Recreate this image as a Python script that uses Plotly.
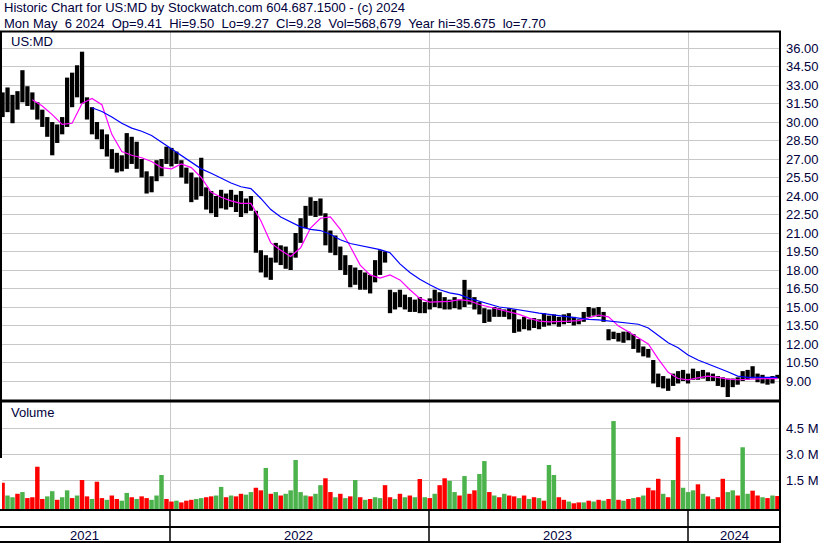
import plotly.graph_objects as go
import pandas as pd

# ---------------- data (weekly) ----------------
first_week = "2021-05-10"

price_hi = [
    32.4, 32.8, 32.2, 32.5, 34.2, 32.9, 32.4, 31.6, 31.0, 30.4,
    30.0, 29.8, 30.4, 33.6, 34.0, 34.6, 35.7, 32.0, 31.2, 30.0,
    29.4, 29.0, 27.8, 27.5, 27.3, 29.1, 28.8, 28.4, 27.0, 26.0,
    25.6, 26.9, 27.0, 28.0, 27.9, 27.6, 26.9, 26.3, 25.9, 25.5,
    27.1, 24.7, 24.4, 24.0, 24.5, 24.2, 24.5, 24.1, 24.4, 23.8,
    24.0, 22.8, 19.6, 19.2, 19.0, 20.2, 20.0, 19.9, 19.4, 21.0,
    22.2, 23.2, 23.9, 23.6, 23.8, 22.6, 21.2, 20.8, 19.9, 19.2,
    18.4, 18.2, 18.0, 17.8, 17.6, 18.8, 19.6, 19.5, 16.4, 16.2,
    16.4, 16.0, 15.8, 15.6, 15.8, 15.4, 15.7, 16.4, 16.2, 15.8,
    15.6, 15.8, 15.6, 17.2, 16.4, 15.8, 15.4, 14.9, 14.8, 15.0,
    14.9, 14.8, 14.9, 14.8, 14.0, 14.2, 14.0, 14.1, 14.0, 14.5,
    14.3, 14.4, 14.2, 14.4, 14.5, 14.2, 14.0, 14.6, 15.0, 14.9,
    15.0, 14.6, 13.2, 13.0, 12.9, 13.0, 13.0, 12.8, 12.4, 11.8,
    11.6, 10.7, 9.6, 9.4, 9.2, 9.6, 9.8, 9.9, 9.6, 10.0,
    9.8, 9.9, 9.7, 9.6, 9.4, 9.3, 9.2, 9.2, 9.3, 9.8,
    9.9, 10.2, 9.6, 9.5, 9.3, 9.4, 9.5,
]

price_lo = [
    30.4, 30.8, 29.9, 31.0, 31.6, 31.3, 31.0, 30.2, 29.6, 28.8,
    27.3, 28.3, 29.0, 29.6, 31.2, 32.0, 31.5, 30.2, 29.0, 28.6,
    27.8, 27.2, 26.2, 25.9, 26.0, 26.2, 26.6, 26.2, 25.5, 24.2,
    24.3, 25.2, 25.6, 26.6, 26.4, 26.6, 25.5, 25.0, 23.5, 23.7,
    24.0, 22.9, 22.6, 22.3, 23.0, 22.9, 23.1, 22.7, 22.3, 22.6,
    22.8, 19.4, 17.8, 17.4, 17.2, 18.6, 18.4, 18.1, 18.0, 19.0,
    20.2, 21.4, 22.4, 22.3, 22.4, 20.0, 19.4, 19.2, 18.0, 17.6,
    16.6, 16.8, 16.4, 16.4, 16.1, 17.0, 17.6, 18.6, 14.5, 14.8,
    15.0, 14.8, 14.6, 14.6, 14.5, 14.5, 14.8, 15.0, 14.9, 14.8,
    14.8, 14.9, 14.8, 15.0, 15.2, 14.8, 14.4, 13.7, 13.8, 14.2,
    14.2, 14.2, 14.0, 12.9, 13.0, 13.2, 13.1, 13.3, 13.2, 13.4,
    13.5, 13.6, 13.4, 13.6, 13.7, 13.5, 13.6, 13.8, 14.2, 14.3,
    14.2, 13.8, 12.3, 12.4, 12.2, 12.1, 12.3, 11.6, 11.3, 11.0,
    10.9, 8.8, 8.5, 8.4, 8.2, 8.6, 8.8, 9.0, 8.8, 9.1,
    9.1, 9.2, 9.0, 9.0, 8.6, 8.5, 7.7, 8.5, 8.7, 9.0,
    9.1, 9.2, 8.9, 8.8, 8.7, 8.8, 9.2,
]

# moving averages, read every second week
ma_fast_start = 6
ma_fast = [
    31.8, 31.3, 30.6, 29.8, 29.9, 31.5, 31.9, 31.4, 29.0, 27.6,
    27.3, 27.1, 26.8, 26.3, 26.2, 26.6, 26.3, 25.5, 24.3, 23.9,
    23.6, 23.4, 23.4, 22.0, 20.2, 19.6, 19.1, 19.8, 21.4, 22.2,
    22.3, 21.3, 19.9, 18.4, 17.6, 17.35, 17.6, 17.2, 16.4, 15.7,
    15.4, 15.4, 15.45, 15.6, 15.5, 15.2, 15.0, 14.8, 14.6, 14.4,
    14.1, 13.85, 13.8, 13.8, 13.85, 13.9, 14.15, 14.35, 14.2, 13.45,
    13.0, 12.5, 12.0, 10.8, 9.7, 9.2, 9.1, 9.25, 9.4, 9.3,
    9.15, 9.1, 9.15, 9.2, 9.2, 9.2,
]
ma_slow_start = 18
ma_slow = [
    31.15, 30.85, 30.4, 29.9, 29.5, 29.25, 28.9, 28.35, 27.85, 27.25,
    26.7, 26.2, 25.85, 25.45, 25.05, 24.75, 24.6, 23.8, 22.9, 22.3,
    21.9, 21.5, 21.3, 21.2, 20.9, 20.45, 20.15, 20.0, 19.85, 19.65,
    19.4, 18.5, 17.8, 17.25, 16.8, 16.4, 16.15, 16.0, 15.7, 15.45,
    15.2, 15.0, 14.9, 14.75, 14.65, 14.5, 14.4, 14.3, 14.2, 14.05,
    14.0, 13.95, 13.85, 13.8, 13.7, 13.6, 13.3, 12.7, 12.1, 11.7,
    11.1, 10.7, 10.4, 10.1, 9.75, 9.4, 9.3, 9.3, 9.3, 9.3,
]

# volume in millions, and direction (u = up, d = down)
volume_m = [
    1.34, 0.6, 0.5, 0.7, 0.8, 0.45, 0.5, 2.27, 0.4, 0.55,
    0.85, 0.35, 0.5, 0.9, 0.45, 0.6, 1.5, 0.55, 0.4, 1.4,
    0.45, 0.35, 0.6, 0.4, 0.3, 0.75, 0.5, 0.4, 0.55, 0.45,
    0.35, 0.6, 1.79, 0.4, 0.25, 0.3, 0.2, 0.3, 0.35, 0.4,
    0.45, 0.5, 0.55, 0.6, 1.1, 0.5, 0.6, 0.55, 0.7, 0.65,
    0.8, 1.05, 0.9, 2.2, 0.7, 0.8, 0.6, 0.7, 0.9, 2.66,
    0.8, 0.6, 0.55, 0.7, 1.2, 1.6, 0.8, 0.5, 0.7, 0.45,
    0.55, 1.5, 0.5, 0.35, 0.4, 0.5, 0.45, 1.2, 0.5, 0.4,
    0.7, 0.5, 0.6, 0.5, 1.56, 0.5, 0.45, 0.7, 1.2, 1.6,
    1.45, 0.8, 0.6, 1.73, 0.7, 0.9, 1.85, 2.6, 0.8, 0.6,
    0.5, 0.7, 0.6, 0.55, 0.45, 0.6, 0.4, 0.5, 0.45, 0.3,
    2.37, 1.79, 0.5, 0.35, 0.25, 0.15, 0.2, 0.2, 0.3, 0.25,
    0.35, 0.3, 0.4, 4.92, 0.35, 0.3, 0.4, 0.45, 0.5, 0.6,
    1.05, 0.9, 1.57, 0.7, 0.5, 1.5, 3.99, 1.05, 0.8, 0.9,
    1.25, 0.7, 0.55, 0.4, 0.5, 1.57, 0.8, 0.9, 0.6, 3.4,
    0.7, 0.88, 0.6, 0.5, 0.45, 0.6, 0.57,
]
volume_dir = """
d u u d u d d d d u
u d u u d u d d u d
d u d d u u d u d d
u u u d d u d d d u
u d d u u d u d d u
u d d u d u d u u u
u u d u u d d u d u
d u d u d u u d d u
d u d u d u d u d d
u u d u d d u u d u
d u d d u d u d u d
u u d d u d d u d u
d u d u d u d u d u
d d d u d u d u u u
d u d u d d u u d u
u d d u d u d
""".split()

price_ticks = [9.0, 10.5, 12.0, 13.5, 15.0, 16.5, 18.0, 19.5, 21.0, 22.5,
               24.0, 25.5, 27.0, 28.5, 30.0, 31.5, 33.0, 34.5, 36.0]
volume_ticks = [1.5, 3.0, 4.5]
volume_tick_text = ["1.5 M", "3.0 M", "4.5 M"]
year_labels = ["2021", "2022", "2023", "2024"]
year_bounds = ["2022-01-01", "2023-01-01", "2024-01-01"]

title_1 = "Historic Chart for US:MD by Stockwatch.com 604.687.1500 - (c) 2024"
title_2 = ("Mon May\u00a0 6 2024\u00a0 Op=9.41\u00a0 Hi=9.50\u00a0 Lo=9.27\u00a0 "
           "Cl=9.28\u00a0 Vol=568,679\u00a0 Year hi=35.675\u00a0 lo=7.70")

# ---------------- layout helpers ----------------
W, H = 830, 543
def px(x):
    return x / W
def py(y):
    return 1 - y / H

FONT = "Liberation Sans, Arial, sans-serif"
NAVY = "#00003c"
GRID = "#c8c8c8"
DAY_MS = 86400000
VOL_FLOOR = -0.241

weeks = pd.date_range(first_week, periods=len(price_hi), freq="7D")

fig = go.Figure()
fig.add_trace(go.Bar(
    x=weeks, base=price_lo, y=[h - l for h, l in zip(price_hi, price_lo)],
    width=6 * DAY_MS, marker=dict(color="black", line=dict(width=0)),
    xaxis="x", yaxis="y", hoverinfo="skip"))
fig.add_trace(go.Scatter(
    x=weeks[ma_fast_start::2], y=ma_fast, mode="lines",
    line=dict(color="#ff00ff", width=1.2), xaxis="x", yaxis="y"))
fig.add_trace(go.Scatter(
    x=weeks[ma_slow_start::2], y=ma_slow, mode="lines",
    line=dict(color="#0000ff", width=1.2), xaxis="x", yaxis="y"))

vol_colors = ["#ff0000" if d == "d" else "#4cb34c" for d in volume_dir]
fig.add_trace(go.Bar(
    x=weeks, base=VOL_FLOOR, y=[v - VOL_FLOOR for v in volume_m],
    width=6.3 * DAY_MS, marker=dict(color=vol_colors, line=dict(width=0)),
    xaxis="x2", yaxis="y2", hoverinfo="skip"))

xrange = ["2021-05-09 05:00", "2024-05-08 05:00"]
xcommon = dict(domain=[px(2), px(779)], range=xrange, type="date",
               tickvals=year_bounds, showticklabels=False, ticks="",
               showgrid=True, gridcolor=GRID, gridwidth=1,
               zeroline=False, showline=False)

fig.update_layout(
    width=W, height=H,
    margin=dict(l=0, r=0, t=0, b=0),
    paper_bgcolor="white", plot_bgcolor="white",
    showlegend=False, barmode="overlay",
    font=dict(family=FONT, size=13, color=NAVY),
    xaxis=dict(anchor="y", **xcommon),
    xaxis2=dict(anchor="y2", matches="x", **xcommon),
    yaxis=dict(domain=[py(400), py(32)], range=[7.4595, 37.297],
               side="right", anchor="x", tickvals=price_ticks,
               ticktext=[f"{t:.2f}" for t in price_ticks],
               ticks="", ticklabelstandoff=6,
               tickfont=dict(family=FONT, size=13, color=NAVY),
               showgrid=True, gridcolor=GRID, gridwidth=1,
               zeroline=False, showline=False),
    yaxis2=dict(domain=[py(510), py(402)], range=[VOL_FLOOR, 6.027],
                side="right", anchor="x2", tickvals=volume_ticks,
                ticktext=volume_tick_text, ticks="", ticklabelstandoff=6,
                tickfont=dict(family=FONT, size=13, color=NAVY),
                showgrid=True, gridcolor=GRID, gridwidth=1,
                zeroline=False, showline=False),
)

def hline(y, x0, x1, w=2):
    return dict(type="line", xref="paper", yref="paper", x0=px(x0), x1=px(x1),
                y0=py(y), y1=py(y), line=dict(color="black", width=w))
def vline(x, y0, y1, w=2):
    return dict(type="line", xref="paper", yref="paper", x0=px(x), x1=px(x),
                y0=py(y0), y1=py(y1), line=dict(color="black", width=w))

shapes = [
    hline(31.5, 0, 781),
    vline(1, 31, 458),
    vline(780, 31, 543),
    hline(401, 0, 781, 3),
    hline(510, 0, 781),
    hline(527, 0, 781),
    hline(542, 0, 781),
]
for xb in (170, 429, 688):
    shapes.append(vline(xb, 510, 542, 1.5))
fig.update_layout(shapes=shapes)

ann = [
    dict(text=title_1, x=px(2), y=py(8)),
    dict(text=title_2, x=px(2), y=py(23)),
    dict(text="US:MD", x=px(9), y=py(41)),
    dict(text="Volume", x=px(9), y=py(413)),
]
annotations = []
for a in ann:
    annotations.append(dict(xref="paper", yref="paper", xanchor="left",
                            yanchor="middle", showarrow=False,
                            font=dict(family=FONT, size=13, color=NAVY), **a))
for label, cx in zip(year_labels, (84, 298, 557, 734)):
    annotations.append(dict(xref="paper", yref="paper", x=px(cx), y=py(535),
                            text=label, xanchor="center", yanchor="middle",
                            showarrow=False,
                            font=dict(family=FONT, size=13, color=NAVY)))
fig.update_layout(annotations=annotations)

fig.write_html(
    "out.html",
    config={"displayModeBar": False, "staticPlot": True},
    post_script="document.body.style.margin='0px';document.body.style.padding='0px';",
)
